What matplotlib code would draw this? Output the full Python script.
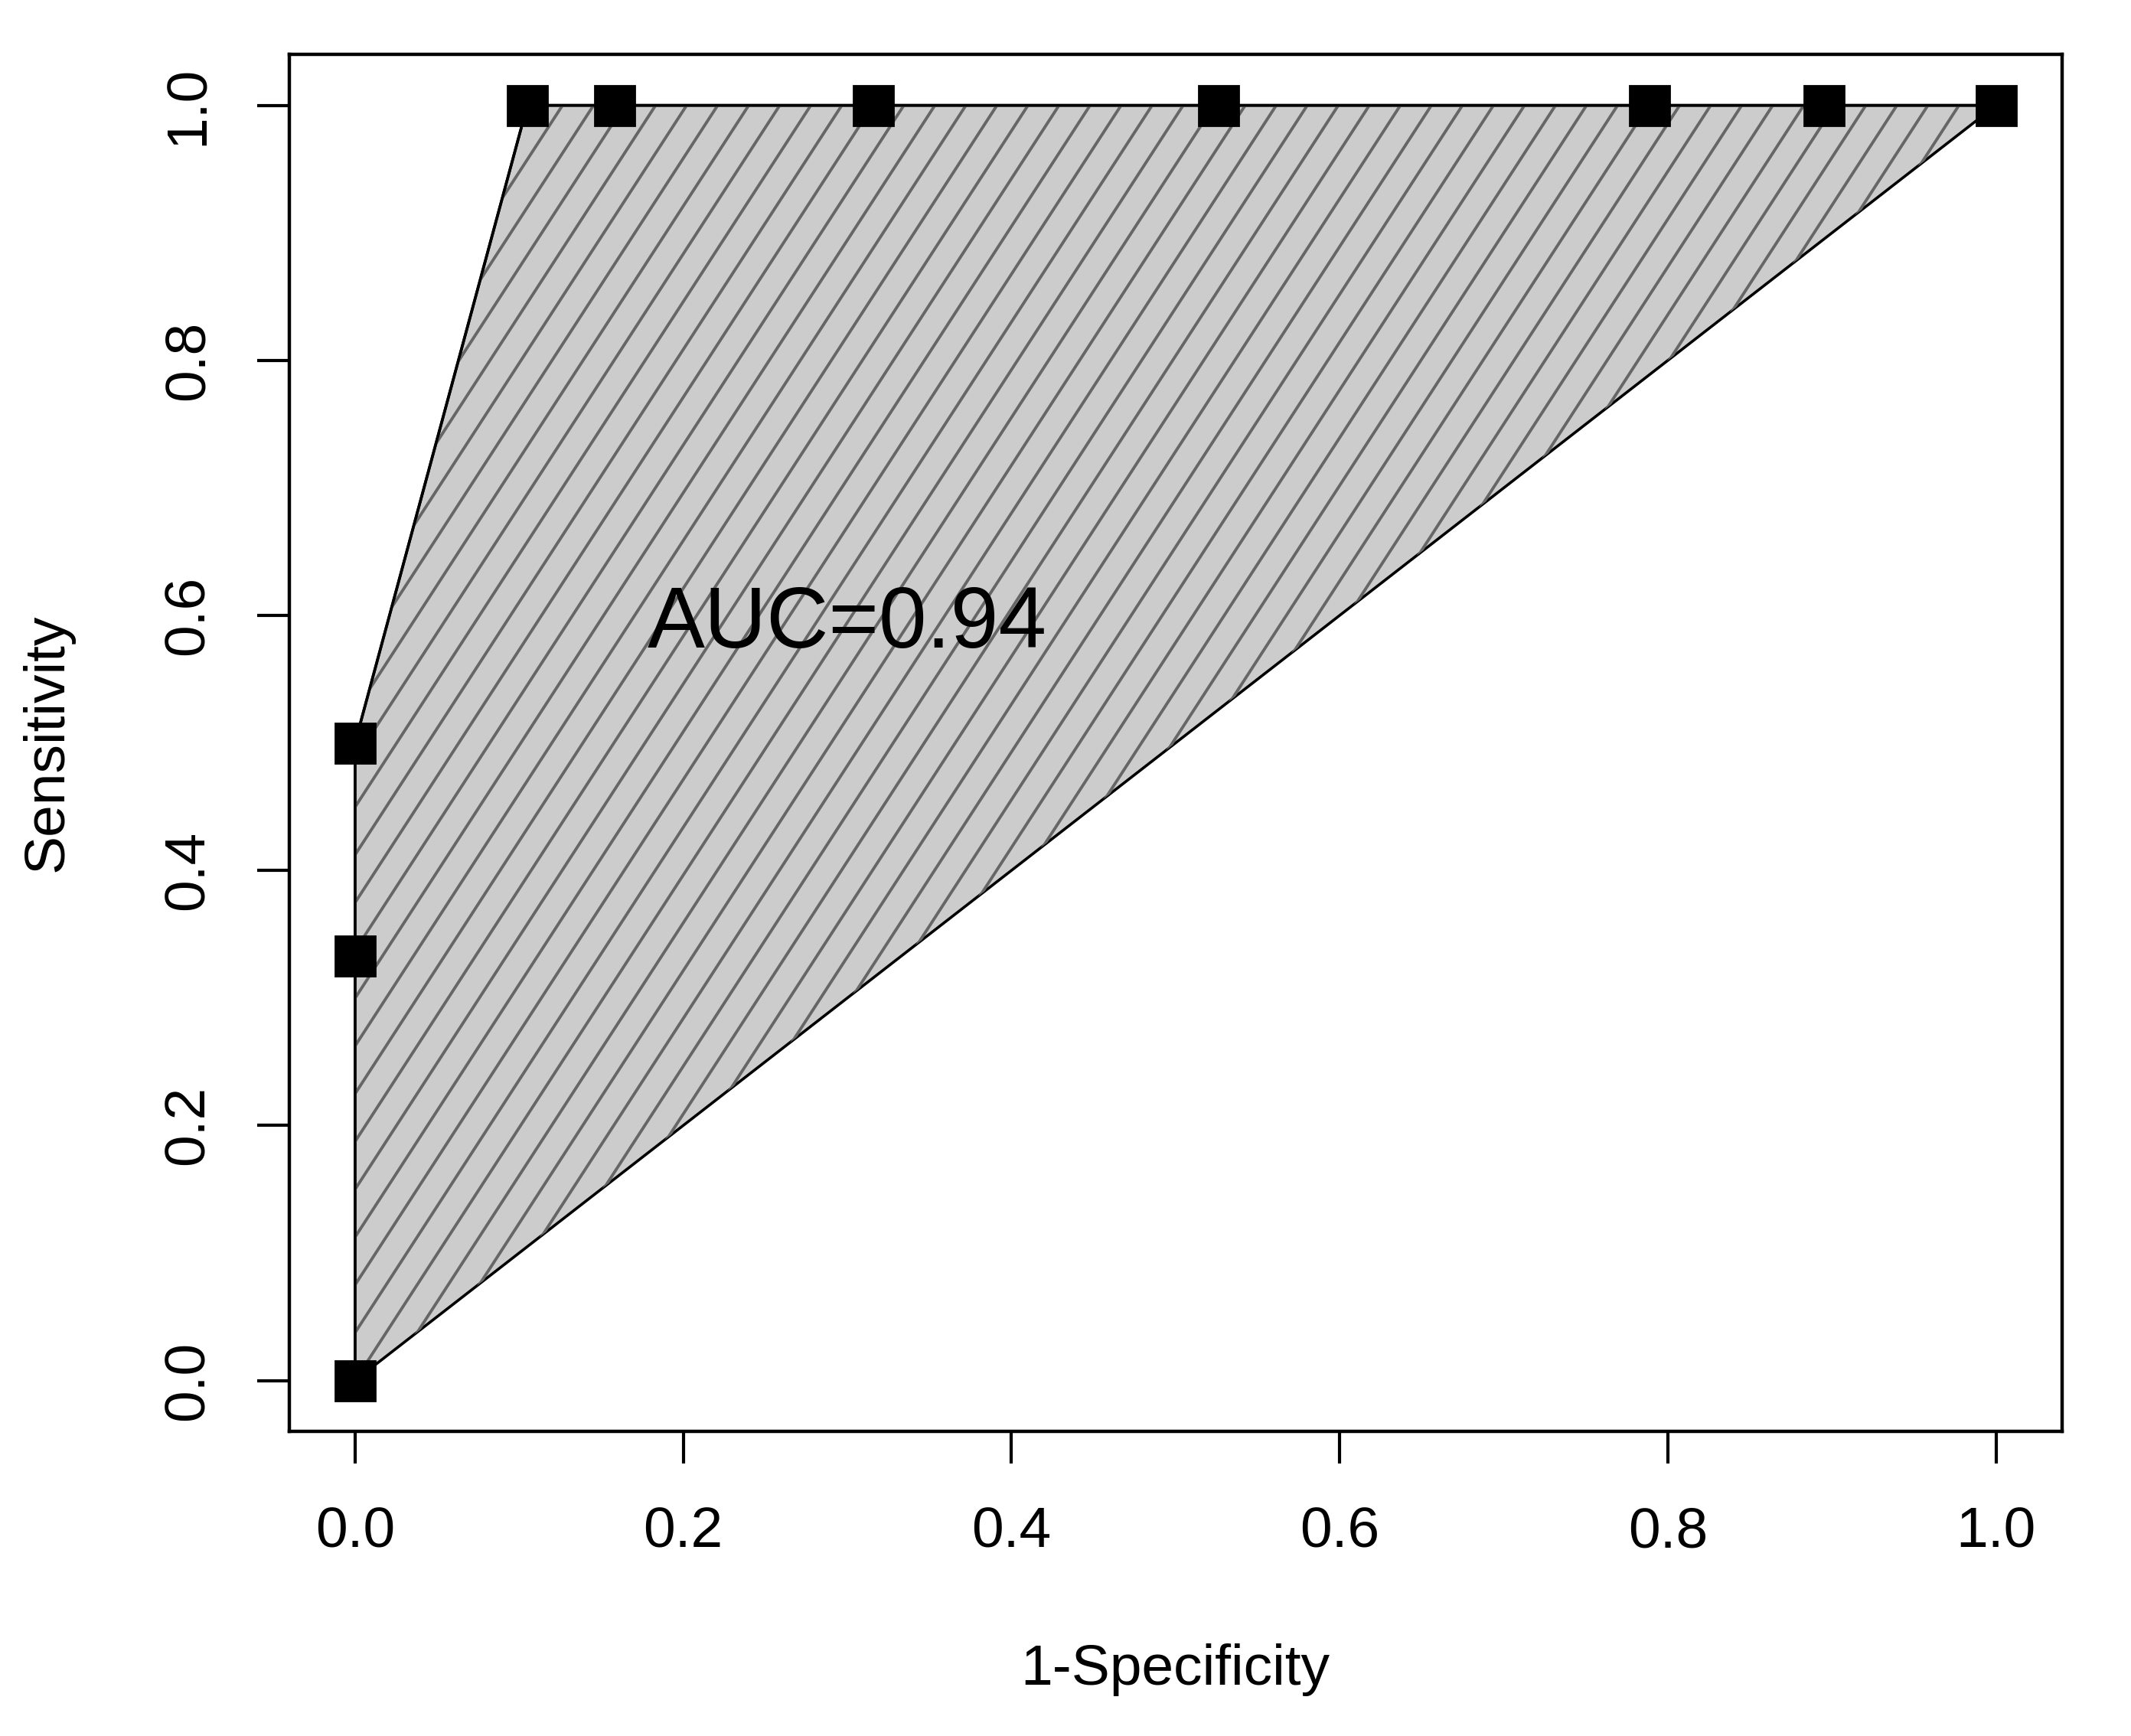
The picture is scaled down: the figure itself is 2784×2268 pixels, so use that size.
import numpy as np
import matplotlib
matplotlib.use('Agg')
import matplotlib.pyplot as plt
from matplotlib.patches import Polygon

plt.rcParams['font.family'] = ['Liberation Sans', 'DejaVu Sans']

# ROC points
fpr = [0.0, 0.0, 0.0, 0.105, 0.158, 0.316, 0.526, 0.789, 0.895, 1.0]
tpr = [0.0, 0.333, 0.5, 1.0, 1.0, 1.0, 1.0, 1.0, 1.0, 1.0]
ticks = [0.0, 0.2, 0.4, 0.6, 0.8, 1.0]
tick_labels = ['0.0', '0.2', '0.4', '0.6', '0.8', '1.0']
auc_text = 'AUC=0.94'

W, H, dpi = 2784, 2268, 200
fig = plt.figure(figsize=(W / dpi, H / dpi), dpi=dpi)
ax = fig.add_axes([0.1358, 0.1754, 0.8317, 0.7933])
ax.set_xlim(-0.04, 1.04)
ax.set_ylim(-0.04, 1.04)

# shaded area under the curve (closed back to origin along the diagonal)
poly = Polygon(np.column_stack([fpr, tpr]), closed=True, facecolor='#cccccc',
               edgecolor='black', linewidth=1.3, zorder=1)
ax.add_patch(poly)

# R-style shading lines, clipped to the polygon
ang = np.deg2rad(57)
step = 34.0  # px between lines
d = np.array([np.cos(ang), np.sin(ang)])
nrm = np.array([-np.sin(ang), np.cos(ang)])
inv = ax.transData.inverted()
x0, y0 = ax.transData.transform((0, 0))
for k in range(-120, 120):
    c = np.array([x0, y0]) + nrm * step * k
    pts = np.array([c - d * 4000, c + d * 4000])
    dp = inv.transform(pts)
    ln, = ax.plot(dp[:, 0], dp[:, 1], color='#666666', lw=1.4, zorder=2)
    ln.set_clip_path(poly)

ax.plot(fpr, tpr, color='black', lw=1.3, zorder=3)
ax.plot(fpr, tpr, 's', color='black', markersize=18.5, zorder=4, clip_on=False)

ax.text(0.3, 0.592, auc_text, fontsize=40.5, ha='center', va='center', zorder=5)

ax.set_xticks(ticks)
ax.set_xticklabels(tick_labels)
ax.set_yticks(ticks)
ax.set_yticklabels(tick_labels, rotation=90, va='center')
ax.tick_params(direction='out', length=15, width=1.5, labelsize=27, pad=20)
for s in ax.spines.values():
    s.set_linewidth(1.6)

fig.text(0.5516, 1 - 2181 / H, '1-Specificity', fontsize=27, ha='center', va='center')
fig.text(62 / W, 1 - 970 / H, 'Sensitivity', fontsize=27, ha='center', va='center', rotation=90)

fig.savefig('out.png', dpi=dpi)
